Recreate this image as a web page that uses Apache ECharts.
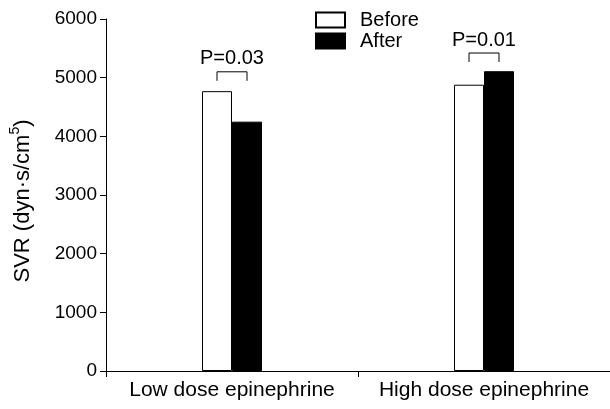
<!DOCTYPE html>
<html><head><meta charset="utf-8">
<script src="https://cdn.jsdelivr.net/npm/echarts@6/dist/echarts.min.js"></script>
<style>html,body{margin:0;padding:0;background:#fff}#c{width:610px;height:409px}</style>
</head><body><div id="c"></div>
<script>
const categories = ['Low dose epinephrine', 'High dose epinephrine'];
const beforeValues = [4770, 4880];
const afterValues = [4250, 5110];
const pLabels = ['P=0.03', 'P=0.01'];
const bracketLevels = [5100, 5420];
const yTicks = [0, 1000, 2000, 3000, 4000, 5000, 6000];

const FONT = '"Liberation Sans", Arial, sans-serif';
const chart = echarts.init(document.getElementById('c'));
const barW = 30;
chart.setOption({
  animation: false,
  backgroundColor: '#fff',
  textStyle: {fontFamily: FONT},
  grid: {left: 106, right: 0, top: 19, bottom: 38, containLabel: false, outerBoundsMode: 'none'},
  legend: {
    orient: 'vertical', left: 315, top: 10, padding: 0, itemWidth: 29, itemHeight: 15, itemGap: 1,
    icon: 'rect',
    data: ['Before', 'After'],
    textStyle: {fontSize: 20, color: '#000', fontFamily: FONT, padding: [0, 0, 0, 10]}
  },
  xAxis: {
    type: 'category', data: categories,
    axisLine: {lineStyle: {color: '#000', width: 1}},
    axisTick: {show: true, length: 6, lineStyle: {color: '#000'}},
    axisLabel: {color: '#000', fontSize: 21, margin: 9, fontFamily: FONT, interval: 0}
  },
  yAxis: {
    type: 'value', min: yTicks[0], max: yTicks[yTicks.length - 1], interval: 1000,
    splitLine: {show: false},
    axisLine: {show: true, lineStyle: {color: '#000', width: 1}},
    axisTick: {show: true, length: 6, lineStyle: {color: '#000'}},
    axisLabel: {color: '#000', fontSize: 19, margin: 9, fontFamily: FONT, formatter: v => String(v)},
    name: '{a|SVR (dyn·s/cm}{s|5}{a|)}{sp|}',
    nameLocation: 'middle', nameGap: 69, nameRotate: 90,
    nameTextStyle: {
      rich: {
        a: {fontSize: 22, color: '#000', fontFamily: FONT},
        s: {fontSize: 14, color: '#000', fontFamily: FONT, verticalAlign: 'top', padding: [0, 0, 15, 0]},
        sp: {width: 12, fontSize: 22}
      }
    }
  },
  series: [
    {name: 'Before', type: 'bar', data: beforeValues, barWidth: barW, barGap: '0%',
     itemStyle: {color: '#fff', borderColor: '#000', borderWidth: 1}},
    {name: 'After', type: 'bar', data: afterValues, barWidth: barW, barGap: '0%',
     itemStyle: {color: '#000', borderColor: '#000', borderWidth: 1}},
    {name: 'brackets', type: 'custom',
     data: categories.map((c, i) => [i, bracketLevels[i], pLabels[i]]),
     renderItem: function (params, api) {
       const p = api.coord([api.value(0), api.value(1)]);
       const h = barW / 2, drop = 9;
       return {type: 'group', children: [
         {type: 'polyline', shape: {points: [[p[0]-h, p[1]+drop], [p[0]-h, p[1]], [p[0]+h, p[1]], [p[0]+h, p[1]+drop]]},
          style: {stroke: '#000', lineWidth: 1, fill: null}},
         {type: 'text', x: p[0], y: p[1] - 3,
          style: {text: pLabels[params.dataIndex], fill: '#000', font: '20px ' + FONT, textAlign: 'center', textVerticalAlign: 'bottom'}}
       ]};
     }}
  ]
});
</script></body></html>
